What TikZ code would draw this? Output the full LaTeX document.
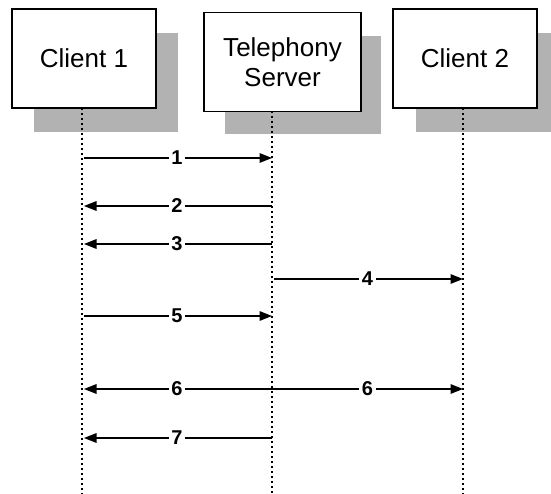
\documentclass[tikz,border=0pt]{standalone}
\usepackage{fontspec}
\setmainfont{Liberation Sans}
\usetikzlibrary{arrows.meta}
\begin{document}
\begin{tikzpicture}[x=1pt,y=-1pt,
  actor/.style={draw=black, line width=1.4pt, fill=white, rectangle,
    inner sep=0pt, minimum height=99pt, align=center,
    font=\fontsize{26}{30}\selectfont},
  shade/.style={fill=black!30, draw=none},
  lifeline/.style={line width=1.8pt, dash pattern=on 2pt off 3pt},
  msg/.style={line width=1.5pt, -{Triangle[length=12.5pt,width=9.5pt]}},
  lbl/.style={fill=white, inner xsep=2.5pt, inner ysep=0pt,
    font=\fontsize{20}{20}\selectfont\bfseries},
]
\useasboundingbox (0,0) rectangle (551,494);

% drop shadows behind the participant boxes
\fill[shade] (34,33) rectangle (178,132);
\fill[shade] (225,36) rectangle (381,134);
\fill[shade] (416,33) rectangle (560,132);

% participants
\node[actor, minimum width=144pt] (c1) at (84,58.5) {Client 1};
\node[actor, minimum width=157pt] (ts) at (282.5,62) {Telephony\\Server};
\node[actor, minimum width=144pt] (c2) at (465,58.5) {Client 2};

% lifeline end points
\coordinate (l1a) at (82,108);  \coordinate (l1b) at (82,494);
\coordinate (lsa) at (272,111); \coordinate (lsb) at (272,494);
\coordinate (l2a) at (463,108); \coordinate (l2b) at (463,494);

\draw[lifeline] (l1a) -- (l1b);
\draw[lifeline] (lsa) -- (lsb);
\draw[lifeline] (l2a) -- (l2b);

% messages
\draw[msg, shorten <=2pt] (l1a |- 0,158) -- node[lbl]{1} (lsa |- 0,158);
\draw[msg, shorten >=2pt] (lsa |- 0,206) -- node[lbl]{2} (l1a |- 0,206);
\draw[msg, shorten >=2pt] (lsa |- 0,244) -- node[lbl]{3} (l1a |- 0,244);
\draw[msg, shorten <=2pt] (lsa |- 0,279) -- node[lbl]{4} (l2a |- 0,279);
\draw[msg, shorten <=2pt] (l1a |- 0,316) -- node[lbl]{5} (lsa |- 0,316);
\draw[msg, shorten >=2pt] (lsa |- 0,389) -- node[lbl]{6} (l1a |- 0,389);
\draw[msg] (lsa |- 0,389) -- node[lbl]{6} (l2a |- 0,389);
\draw[msg, shorten >=2pt] (lsa |- 0,438) -- node[lbl]{7} (l1a |- 0,438);
\end{tikzpicture}
\end{document}
